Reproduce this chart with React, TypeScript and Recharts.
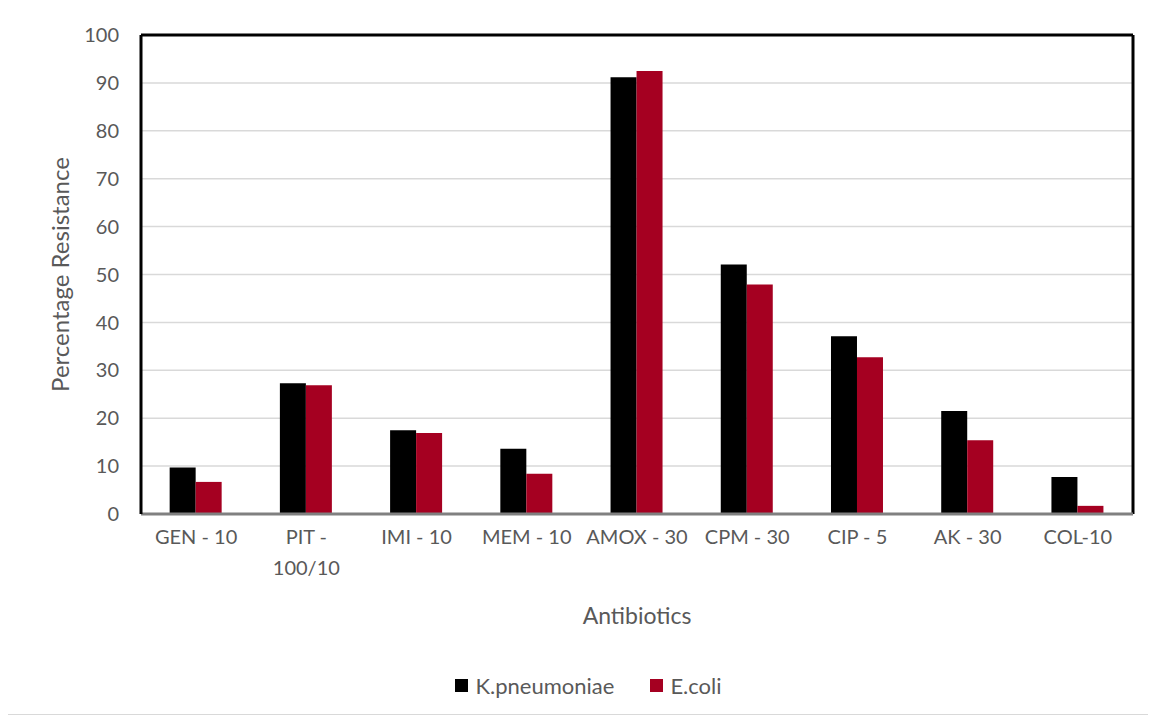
import React from 'react';
import { BarChart, Bar, XAxis, YAxis, CartesianGrid, Legend, Label, ReferenceLine } from 'recharts';

const antibiotics = ['GEN - 10', 'PIT - 100/10', 'IMI - 10', 'MEM - 10', 'AMOX - 30', 'CPM - 30', 'CIP - 5', 'AK - 30', 'COL-10'];
const tickLines = [['GEN - 10'], ['PIT -', '100/10'], ['IMI - 10'], ['MEM - 10'], ['AMOX - 30'], ['CPM - 30'], ['CIP - 5'], ['AK - 30'], ['COL-10']];
const kPneumoniae = [9.7, 27.3, 17.5, 13.6, 91.2, 52.1, 37.1, 21.5, 7.7];
const eColi = [6.7, 26.9, 16.9, 8.4, 92.5, 47.9, 32.7, 15.4, 1.7];
const yTicks = [0, 10, 20, 30, 40, 50, 60, 70, 80, 90, 100];

const data = antibiotics.map((name, i) => ({
    name,
    'K.pneumoniae': kPneumoniae[i],
    'E.coli': eColi[i],
}));

const FONT = 'Lato, "Open Sans", sans-serif';
const GREY = '#595959';

const XTick = (props: any) => {
    const { x, y, index } = props;
    const lines = tickLines[index] || [props.payload.value];
    return (
        <text x={x} y={y} textAnchor="middle" fill={GREY} fontSize={20} fontFamily={FONT}>
            {lines.map((l, i) => (
                <tspan key={i} x={x} dy={i === 0 ? 14 : 31}>{l}</tspan>
            ))}
        </text>
    );
};

const LegendContent = () => (
    <div style={{ display: 'flex', justifyContent: 'center', gap: 36, fontFamily: FONT, fontSize: 22, color: GREY, paddingLeft: 36, marginTop: -2 }}>
        {[['K.pneumoniae', '#000000'], ['E.coli', '#a50021']].map(([n, c]) => (
            <span key={n} style={{ display: 'flex', alignItems: 'center' }}>
                <span style={{ display: 'inline-block', width: 13, height: 13, background: c, marginRight: 7 }} />
                {n}
            </span>
        ))}
    </div>
);

const App = () => {
    return (
        <div style={{ width: 1143, height: 709, border: '1px solid #d9d9d9', marginLeft: -1, marginTop: -2, background: '#fff', boxSizing: 'border-box' }}>
            <BarChart
                width={1141}
                height={707}
                data={data}
                margin={{ top: 28, right: 16, left: 0, bottom: 0 }}
                barCategoryGap="26%"
                barGap={0}
            >
                <CartesianGrid vertical={false} stroke="#d9d9d9" strokeWidth={1.5} />
                <XAxis
                    dataKey="name"
                    height={160}
                    interval={0}
                    tickLine={false}
                    tickSize={0}
                    tickMargin={16}
                    axisLine={{ stroke: '#808080', strokeWidth: 3 }}
                    tick={<XTick />}
                >
                    <Label value="Antibiotics" position="insideBottom" offset={50} fill={GREY} fontSize={23} fontFamily={FONT} />
                </XAxis>
                <YAxis
                    width={133}
                    domain={[0, 100]}
                    ticks={yTicks}
                    tickLine={false}
                    tickSize={0}
                    tickMargin={22}
                    axisLine={{ stroke: '#000', strokeWidth: 3 }}
                    tick={{ fill: GREY, fontSize: 20, fontFamily: FONT }}
                >
                    <Label value="Percentage Resistance" angle={-90} position="insideLeft" offset={52} fill={GREY} fontSize={24} fontFamily={FONT} style={{ textAnchor: 'middle' }} />
                </YAxis>
                <Legend verticalAlign="bottom" height={40} content={<LegendContent />} />
                <Bar dataKey="K.pneumoniae" fill="#000000" isAnimationActive={false} />
                <Bar dataKey="E.coli" fill="#a50021" isAnimationActive={false} />
                <ReferenceLine y={100} stroke="#000" strokeWidth={3} />
                <ReferenceLine x="COL-10" position="end" stroke="#000" strokeWidth={3} />
            </BarChart>
        </div>
    );
};

export default App;
